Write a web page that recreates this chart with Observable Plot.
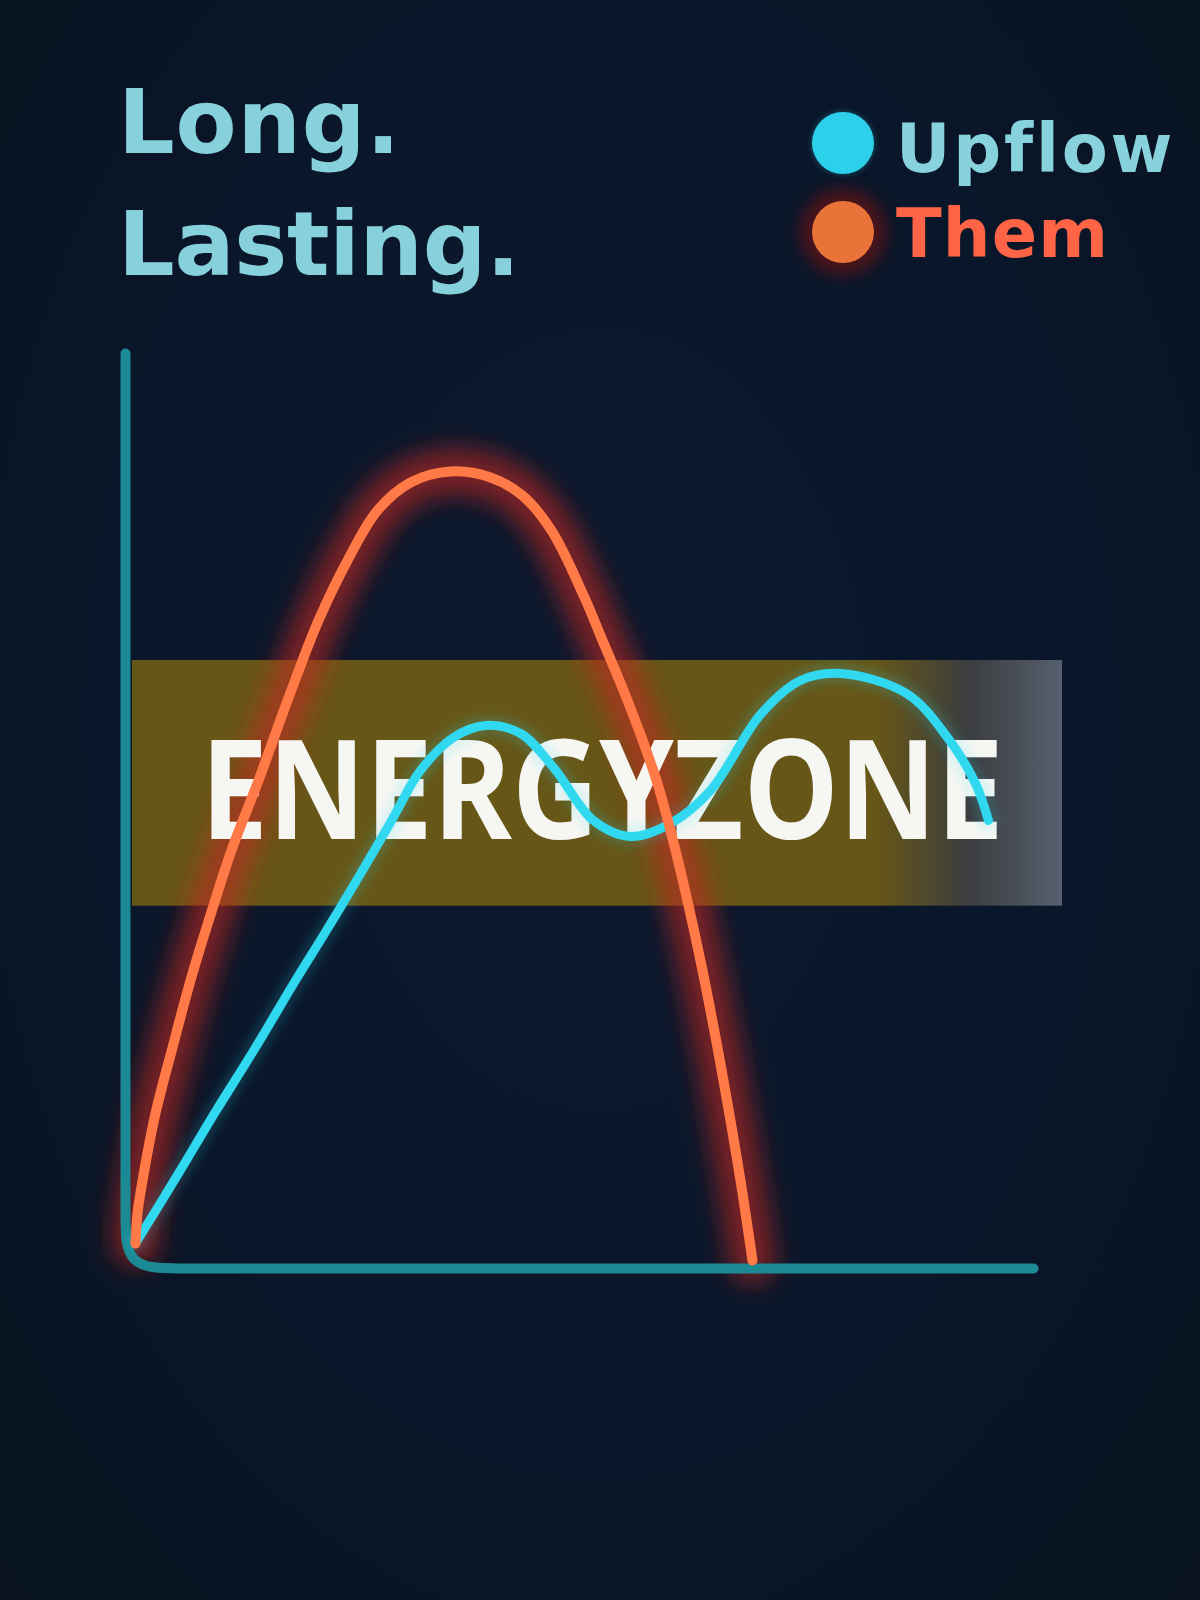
<!DOCTYPE html>
<html>
<head>
<meta charset="utf-8">
<script src="https://cdn.jsdelivr.net/npm/d3@7"></script>
<script src="https://cdn.jsdelivr.net/npm/@observablehq/plot@0.6"></script>
<style>
  html, body { margin: 0; padding: 0; background: #0a1628; }
  #page { position: relative; width: 1200px; height: 1600px; overflow: hidden;
          background: radial-gradient(ellipse at 50% 45%, #0b192f 0%, #0a1629 60%, #08131f 100%); }
  #header { position: relative; width: 1200px; height: 330px; }
  .t { position: absolute; white-space: nowrap; font-family: "DejaVu Sans", sans-serif;
       font-weight: 700; line-height: 1; }
  .dot { position: absolute; border-radius: 50%; }
  #chart svg { display: block; }
</style>
</head>
<body>
<div id="page">
  <div id="header"></div>
  <div id="chart"></div>
</div>
<script>
// ---------------- data ----------------
const titleLines = ["Long.", "Lasting."];
const seriesNames = ["Upflow", "Them"];

// "Them" curve (orange)
const themX = [0.88, 1.10, 1.66, 3.09, 4.97, 6.95, 9.49, 11.59, 14.46, 17.66, 21.08, 24.28, 27.59, 31.24, 35.65,
               40.07, 43.60, 46.80, 50.44, 52.43, 55.19, 58.39, 60.49, 61.92, 63.69, 65.78, 67.66, 68.98];
const themY = [0, 3.37, 7.08, 14.61, 22.02, 29.55, 37.98, 44.49, 52.02, 61.01, 70.0, 76.74, 82.36, 85.51, 86.74,
               86.07, 84.04, 80.11, 72.58, 67.75, 61.01, 52.02, 44.16, 37.98, 29.55, 18.31, 7.08, -1.91];

// "Upflow" curve (cyan)
const upflowX = [0.88, 5.63, 9.60, 14.13, 18.54, 21.96, 25.28, 29.03, 32.34, 35.98, 39.51, 43.38, 47.02, 51.43,
                 55.52, 59.93, 64.35, 69.87, 74.28, 78.70, 85.98, 90.51, 93.60, 95.03];
const upflowY = [0, 7.87, 14.61, 22.02, 29.55, 35.17, 40.79, 47.30, 53.15, 56.85, 58.20, 57.30, 53.48, 47.53,
                 45.73, 47.19, 50.90, 59.44, 63.26, 64.04, 61.80, 56.85, 51.69, 47.53];

// energy zone band
const zoneLabel = "ENERGYZONE";
const zoneX = [0.55, 103.2];
const zoneY = [37.9, 65.5];
const zoneLabelAt = [52.4, 45.5];

// axis frame (domain bounds)
const axisXMin = -0.22, axisXMax = 100;
const axisYMin = -2.8, axisYMax = 100;
const axisCorner = 6;

// ---------------- header (title + legend) ----------------
const header = document.getElementById("header");
function place(text, {left, baseline, size, color, width}) {
  const el = document.createElement("div");
  el.className = "t";
  el.style.left = left + "px";
  el.style.top = "0px";
  el.style.fontSize = size + "px";
  el.style.color = color;
  el.textContent = text;
  const probe = document.createElement("span");
  probe.style.display = "inline-block";
  probe.style.width = "0px";
  probe.style.height = "0px";
  probe.style.verticalAlign = "baseline";
  el.appendChild(probe);
  header.appendChild(el);
  const w = el.getBoundingClientRect().width;
  if (width && text.length > 1) el.style.letterSpacing = ((width - w) / (text.length - 1)) + "px";
  const b = probe.getBoundingClientRect().top - el.getBoundingClientRect().top;
  el.style.top = (baseline - b) + "px";
  return el;
}
place(titleLines[0], {left: 118, baseline: 153, size: 89, color: "#86d1dc", width: 282});
place(titleLines[1], {left: 118, baseline: 275, size: 89, color: "#86d1dc", width: 402});
place(seriesNames[0], {left: 896, baseline: 172, size: 67, color: "#88d2dd", width: 274});
place(seriesNames[1], {left: 896, baseline: 257, size: 67, color: "#ff6446", width: 212});

function dot(cx, cy, r, color, shadow) {
  const d = document.createElement("div");
  d.className = "dot";
  d.style.left = (cx - r) + "px";
  d.style.top = (cy - r) + "px";
  d.style.width = d.style.height = (2 * r) + "px";
  d.style.background = color;
  if (shadow) d.style.boxShadow = shadow;
  header.appendChild(d);
}
dot(843, 143, 31, "#2dd0ea", "0 0 6px rgba(45,208,234,0.35)");
dot(843, 232, 31, "#e8743a", "0 0 16px 12px rgba(95,20,22,0.8)");

// ---------------- chart ----------------
const them = themX.map((x, i) => ({x, y: themY[i]}));
const upflow = upflowX.map((x, i) => ({x, y: upflowY[i]}));
const zone = [{x1: zoneX[0], x2: zoneX[1], y1: zoneY[0], y2: zoneY[1]}];
const c = axisCorner;
const axisFrame = [
  [axisXMin, axisYMax], [axisXMin, axisYMin + 2 * c], [axisXMin, axisYMin + c], [axisXMin, axisYMin],
  [axisXMin + c, axisYMin], [axisXMin + 2 * c, axisYMin], [axisXMax, axisYMin]
].map(([x, y]) => ({x, y}));

const chart = Plot.plot({
  width: 1200,
  height: 1270,
  margin: 0,
  style: {background: "transparent", overflow: "visible"},
  x: {domain: [0, 100], range: [127, 1033], axis: null},
  y: {domain: [0, 100], range: [913, 23], axis: null},
  marks: [
    Plot.rect(zone, {x1: "x1", x2: "x2", y1: "y1", y2: "y2", fill: "#675717"}),                                   // 0
    Plot.line(them, {x: "x", y: "y", curve: "catmull-rom", stroke: "#c42a1e", strokeWidth: 46, strokeOpacity: 0.6}), // 1
    Plot.text([zoneLabel], {x: zoneLabelAt[0], y: zoneLabelAt[1], text: d => d, fontSize: 139, fontWeight: 700,
      fontFamily: "'Open Sans', sans-serif", fill: "#f6f6f2", textAnchor: "middle", lineAnchor: "bottom"}),       // 2
    Plot.line(axisFrame, {x: "x", y: "y", curve: "basis", stroke: "#1c8a95", strokeWidth: 10, strokeLinecap: "round"}), // 3
    Plot.line(upflow, {x: "x", y: "y", curve: "catmull-rom", stroke: "#2fd8f0", strokeWidth: 20, strokeOpacity: 0.16}), // 4
    Plot.line(upflow, {x: "x", y: "y", curve: "catmull-rom", stroke: "#30d9f0", strokeWidth: 9, strokeLinecap: "round"}), // 5
    Plot.line(them, {x: "x", y: "y", curve: "catmull-rom", stroke: "#ff7a47", strokeWidth: 10})                  // 6
  ]
});
document.getElementById("chart").appendChild(chart);

// gradient + glow filters
const svg = d3.select(chart);
const markGroups = svg.selectAll(":scope > g").nodes();
const defs = svg.insert("defs", ":first-child");
const grad = defs.append("linearGradient").attr("id", "zoneGrad")
  .attr("x1", 0).attr("x2", 1).attr("y1", 0).attr("y2", 0);
[[0, "#675717"], [0.80, "#665617"], [0.90, "#3b3d3f"], [1, "#56606e"]]
  .forEach(([o, col]) => grad.append("stop").attr("offset", o).attr("stop-color", col));
function blur(id, sd) {
  defs.append("filter").attr("id", id).attr("filterUnits", "userSpaceOnUse")
    .attr("x", -100).attr("y", -100).attr("width", 1400).attr("height", 1470)
    .append("feGaussianBlur").attr("stdDeviation", sd);
}
blur("blurO", 12);
blur("blurC", 5);
d3.select(markGroups[0]).attr("fill", "url(#zoneGrad)");
d3.select(markGroups[1]).attr("filter", "url(#blurO)");
d3.select(markGroups[4]).attr("filter", "url(#blurC)");
d3.select(markGroups[2]).selectAll("text").attr("textLength", 803).attr("lengthAdjust", "spacingAndGlyphs");
</script>
</body>
</html>
